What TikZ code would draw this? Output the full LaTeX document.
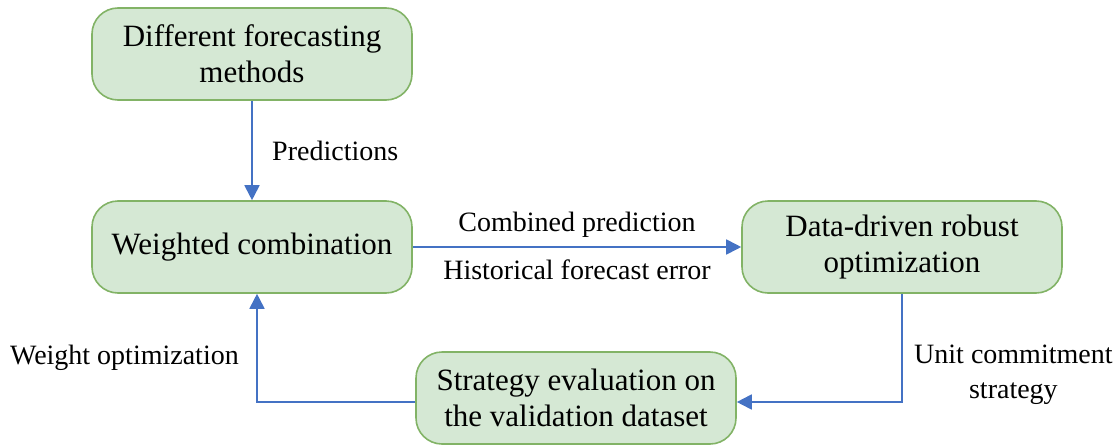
\documentclass[tikz,border=0pt]{standalone}
\usepackage{fontspec}
\setmainfont{Liberation Serif}
\usepackage{tikz}
\usetikzlibrary{arrows.meta}
\definecolor{boxfill}{RGB}{213,232,212}
\definecolor{boxline}{RGB}{130,179,102}
\definecolor{linkblue}{RGB}{68,114,196}

\begin{document}
\begin{tikzpicture}[
  x=1pt,y=-1pt,
  stage/.style={draw=boxline,fill=boxfill,line width=1.6pt,
    rounded corners=26pt,minimum width=320pt,minimum height=92pt,
    align=center,font={\fontsize{31}{36}\selectfont}},
  tag/.style={align=center,font={\fontsize{28}{35}\selectfont}},
  link/.style={draw=linkblue,line width=1.8pt,
    -{Triangle[length=15pt,width=15pt]}},
  ]
  % Frame
  \useasboundingbox (0,0) rectangle (1115,447);
  % Boxes
  \node[stage] (methods) at (252,54) {Different forecasting\\methods};
  \node[stage] (combine) at (252,247) {Weighted combination};
  \node[stage] (robust) at (902,247) {Data-driven robust\\optimization};
  \node[stage] (evaluate) at (576,398) {Strategy evaluation on\\the validation dataset};
  % Predictions
  \draw[link] (methods) -- (combine)
    node[tag,midway,right=16pt] (predlbl) {Predictions};
  % Combined prediction
  \draw[link] (combine) -- (robust)
    node[tag,midway,above=5pt] (comblbl) {Combined prediction}
    node[tag,midway,below=9pt] (histlbl) {Historical forecast error};
  % Unit commitment
  \draw[link] (robust.south) |- ([yshift=-4pt]evaluate.east)
    node[tag,pos=0.375,right=8pt] (unitlbl) {Unit commitment\\strategy};
  % Weight optimization
  \draw[link] ([yshift=-4pt]evaluate.west) -| ([xshift=5pt]combine.south)
    node[tag,pos=0.705,left=14pt] (weightlbl) {Weight optimization};
\end{tikzpicture}
\end{document}
